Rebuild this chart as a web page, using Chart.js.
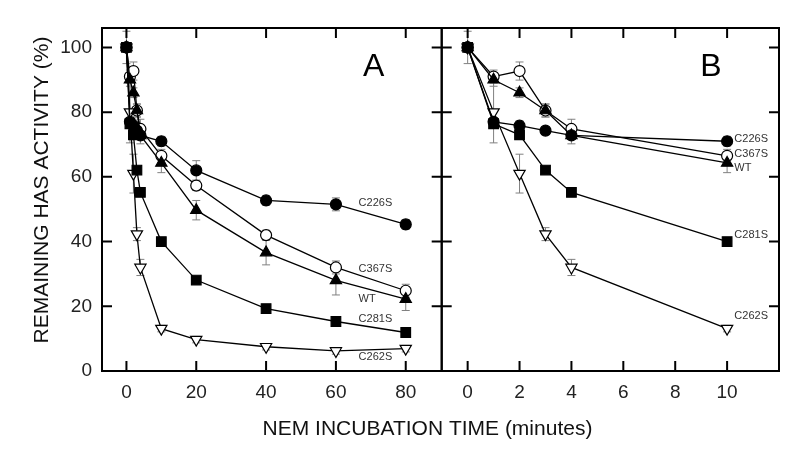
<!DOCTYPE html>
<html><head><meta charset="utf-8">
<script src="https://cdn.jsdelivr.net/npm/chart.js@4.4.1/dist/chart.umd.min.js"></script>
<style>
html,body{margin:0;padding:0;background:#fff;}
#wrap{position:relative;width:800px;height:452px;overflow:hidden;}
canvas{position:absolute;left:0;top:0;}
</style></head><body>
<div id="wrap"><canvas id="ca" width="800" height="452"></canvas><canvas id="cb" width="800" height="452"></canvas></div>
<script>
// ---- data ----
const timesA = [0, 1, 2, 3, 4, 10, 20, 40, 60, 80];
const timesB = [0, 1, 2, 3, 4, 10];
const seriesNames = ['C226S', 'C367S', 'WT', 'C281S', 'C262S'];
const c226s = [100, 77, 75.8, 74.3, 72.8, 71.0, 62.0, 52.7, 51.5, 45.3];
const c367s = [100, 91, 92.7, 80.5, 74.8, 66.5, 57.3, 42.0, 32.0, 24.8];
const wt    = [100, 90, 86.0, 80.5, 72.8, 64.3, 49.7, 36.6, 28.0, 22.2];
const c281s = [100, 76.4, 73.0, 62.1, 55.2, 40.0, 28.1, 19.3, 15.3, 11.9];
const c262s = [100, 80, 61.0, 42.3, 32.0, 13.1, 9.7, 7.5, 6.2, 6.9];
const errC226s = [1, 0, 1.5, 1, 1, 1.5, 3, 1.5, 2, 1.5];
const errC367s = [1, 2, 2.8, 2, 3, 2, 1.5, 1.5, 2, 2];
const errWt    = [1, 2, 1.5, 2, 2.6, 3, 3, 3.8, 4.5, 3.5];
const errC281s = [1, 1, 1, 1, 1, 1, 1, 1, 1, 1];
const errC262s = [5, 9.5, 6, 2, 2.5, 1, 1, 1, 1, 1];
const xTicksA = [0, 20, 40, 60, 80];
const xTicksB = [0, 2, 4, 6, 8, 10];
const yTicks = [0, 20, 40, 60, 80, 100];
const xTitle = 'NEM INCUBATION TIME (minutes)';
const yTitle = 'REMAINING HAS ACTIVITY (%)';
const panelLetters = ['A', 'B'];
// series label anchors (data coords)
const labelsA = [['C226S', 66.5, 51.9], ['C367S', 66.5, 31.5], ['WT', 66.5, 22.2], ['C281S', 66.5, 16.1], ['C262S', 66.5, 4.3]];
const labelsB = [['C226S', 10.28, 71.7], ['C367S', 10.28, 67.0], ['WT', 10.28, 62.7], ['C281S', 10.28, 42.0], ['C262S', 10.28, 17.0]];

// ---- styling / layout ----
const FONT = "'Liberation Sans', Arial, Helvetica, sans-serif";
Chart.defaults.font.family = FONT;
const TOP = 28, BOTTOM = 371, W = 800, H = 452;
const A_LEFT = 102, MID = 441.7, B_RIGHT = 779;

const allVals = [c226s, c367s, wt, c281s, c262s];
const allErr = [errC226s, errC367s, errWt, errC281s, errC262s];
const styles = [
  {pointStyle: 'circle', r: 5.5, bg: '#000', rot: 0, order: 3},
  {pointStyle: 'circle', r: 5.5, bg: '#fff', rot: 0, order: 5},
  {pointStyle: 'triangle', r: 6.5, bg: '#000', rot: 0, order: 1},
  {pointStyle: 'rect', r: 6.8, bg: '#000', rot: 0, order: 2},
  {pointStyle: 'triangle', r: 6.5, bg: '#fff', rot: 180, order: 4}
];

function makeDatasets(times) {
  return seriesNames.map((name, s) => ({
    label: name,
    data: times.map((t, i) => ({x: t, y: allVals[s][i]})),
    errs: times.map((t, i) => allErr[s][i]),
    order: styles[s].order,
    borderColor: '#000', borderWidth: 1.3, showLine: true, tension: 0,
    pointStyle: styles[s].pointStyle, pointRadius: styles[s].r,
    pointBackgroundColor: styles[s].bg, pointBorderColor: '#000',
    pointBorderWidth: 1.2, pointRotation: styles[s].rot, clip: false
  }));
}

const errorBars = {
  id: 'errorBars',
  beforeDatasetsDraw(chart) {
    const ctx = chart.ctx, xs = chart.scales.x, ys = chart.scales.y;
    ctx.save();
    ctx.strokeStyle = '#808080'; ctx.lineWidth = 1;
    chart.data.datasets.forEach(ds => {
      ds.data.forEach((p, i) => {
        const e = ds.errs[i]; if (!e) return;
        const px = xs.getPixelForValue(p.x);
        const y1 = ys.getPixelForValue(p.y + e), y2 = ys.getPixelForValue(p.y - e);
        ctx.beginPath();
        ctx.moveTo(px, y1); ctx.lineTo(px, y2);
        ctx.moveTo(px - 4, y1); ctx.lineTo(px + 4, y1);
        ctx.moveTo(px - 4, y2); ctx.lineTo(px + 4, y2);
        ctx.stroke();
      });
    });
    ctx.restore();
  }
};

function framePlugin(xTicks, letter, labels, drawTitles) {
  return {
    id: 'frame',
    afterDraw(chart) {
      const ctx = chart.ctx, a = chart.chartArea, xs = chart.scales.x, ys = chart.scales.y;
      ctx.save();
      ctx.strokeStyle = '#000'; ctx.lineWidth = 2;
      ctx.strokeRect(a.left, a.top, a.right - a.left, a.bottom - a.top);
      const T = 10;
      ctx.beginPath();
      xTicks.forEach(v => {
        const px = xs.getPixelForValue(v);
        ctx.moveTo(px, a.bottom); ctx.lineTo(px, a.bottom - T);
        ctx.moveTo(px, a.top); ctx.lineTo(px, a.top + T);
      });
      yTicks.forEach(v => {
        const py = ys.getPixelForValue(v);
        ctx.moveTo(a.left, py); ctx.lineTo(a.left + T, py);
        ctx.moveTo(a.right, py); ctx.lineTo(a.right - T, py);
      });
      ctx.stroke();
      // series labels
      ctx.fillStyle = '#333'; ctx.font = '11px ' + FONT;
      ctx.textAlign = 'left'; ctx.textBaseline = 'middle';
      labels.forEach(l => ctx.fillText(l[0], xs.getPixelForValue(l[1]), ys.getPixelForValue(l[2])));
      // panel letter
      ctx.fillStyle = '#000'; ctx.font = '32px ' + FONT; ctx.textAlign = 'center';
      ctx.fillText(letter, a.right - 68, 67);
      if (drawTitles) {
        ctx.fillStyle = '#111'; ctx.font = '21px ' + FONT;
        ctx.fillText(xTitle, 427.5, 429);
        ctx.save();
        ctx.translate(42, 190); ctx.rotate(-Math.PI / 2);
        ctx.fillText(yTitle, 0, 0);
        ctx.restore();
      }
      ctx.restore();
    }
  };
}

function setTicks(arr) { return scale => { scale.ticks = arr.map(v => ({value: v})); }; }

function makeChart(id, times, xmin, xmax, xTicks, padding, showY, letter, labels, drawTitles) {
  return new Chart(document.getElementById(id), {
    type: 'scatter',
    data: {datasets: makeDatasets(times)},
    options: {
      responsive: false, animation: false, devicePixelRatio: 1,
      layout: {padding: padding},
      plugins: {legend: {display: false}, tooltip: {enabled: false}},
      scales: {
        x: {
          type: 'linear', min: xmin, max: xmax,
          afterBuildTicks: setTicks(xTicks),
          afterFit: s => { s.height = H - BOTTOM; },
          grid: {display: false, drawTicks: false},
          border: {display: false},
          ticks: {padding: 10, color: '#222', font: {size: 19}}
        },
        y: {
          type: 'linear', min: 0, max: 106, display: showY,
          afterBuildTicks: setTicks(yTicks),
          afterFit: s => { s.width = showY ? A_LEFT : 0; },
          grid: {display: false, drawTicks: false},
          border: {display: false},
          ticks: {padding: 10, color: '#222', font: {size: 19}}
        }
      }
    },
    plugins: [errorBars, framePlugin(xTicks, letter, labels, drawTitles)]
  });
}

makeChart('ca', timesA, -7, 90.3, xTicksA, {top: TOP, left: 0, right: W - MID, bottom: 0}, true, panelLetters[0], labelsA, true);
makeChart('cb', timesB, -1, 12, xTicksB, {top: TOP, left: MID, right: W - B_RIGHT, bottom: 0}, false, panelLetters[1], labelsB, false);
</script>
</body></html>
